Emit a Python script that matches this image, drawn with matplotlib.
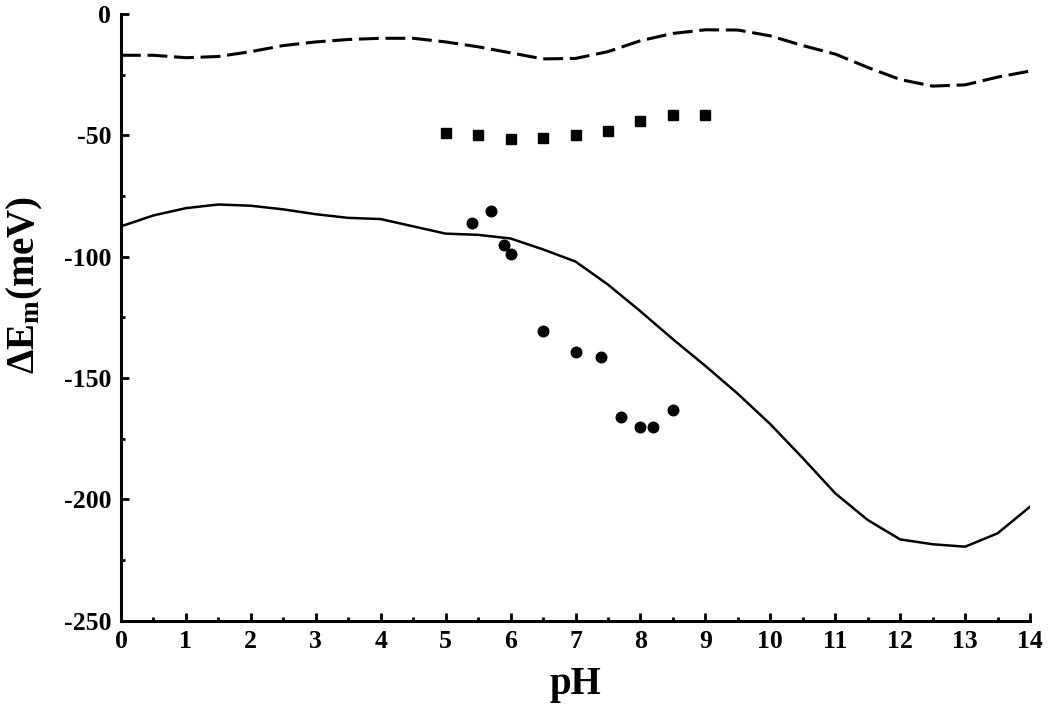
import numpy as np
import matplotlib
matplotlib.use('Agg')
import matplotlib.pyplot as plt
from matplotlib.ticker import MultipleLocator

plt.rcParams['font.family'] = 'Liberation Serif'
plt.rcParams['font.weight'] = 'bold'
plt.rcParams['axes.unicode_minus'] = False
plt.rcParams['mathtext.fontset'] = 'custom'
plt.rcParams['mathtext.rm'] = 'Liberation Serif:bold'
plt.rcParams['mathtext.it'] = 'Liberation Serif:bold'
plt.rcParams['mathtext.bf'] = 'Liberation Serif:bold'

# calculated curves (0.5 pH steps)
ph_curve = [0, 0.5, 1, 1.5, 2, 2.5, 3, 3.5, 4, 4.5, 5, 5.5, 6, 6.5, 7,
            7.5, 8, 8.5, 9, 9.5, 10, 10.5, 11, 11.5, 12, 12.5, 13, 13.5, 14]
dashed_vals = [-17, -17, -18, -17.5, -15.5, -13, -11.5, -10.5, -10, -10,
               -11.5, -13.5, -16, -18.5, -18.3, -15.5, -11, -8, -6.5, -6.6,
               -9, -13, -16.5, -22, -27, -29.7, -29.2, -26, -23.5]
solid_vals = [-87.5, -83, -80, -78.5, -79, -80.5, -82.5, -84, -84.5, -87.5,
              -90.5, -91, -92.5, -97, -102, -111.5, -122.5, -134, -145,
              -156.5, -169, -183, -197.5, -208.5, -216.5, -218.5, -219.5,
              -214, -203]

# experimental points
ph_squares = [5, 5.5, 6, 6.5, 7, 7.5, 8, 8.5, 9]
squares = [-49, -50, -51.5, -51, -49.8, -48, -44, -41.7, -41.7]

ph_circles = [5.4, 5.7, 5.9, 6.0, 6.5, 7.0, 7.4, 7.7, 8.0, 8.2, 8.5]
circles = [-86, -81, -95, -99, -130.5, -139.3, -141.2, -166.2, -170.2, -170.2, -163]

fig = plt.figure(figsize=(10.5, 7.08), dpi=100)
ax = fig.add_axes([0.1152, 0.1233, 0.8658, 0.8569])

ax.plot(ph_curve, dashed_vals, color='black', lw=2.2, dashes=(6.5, 2.2))
ax.plot(ph_curve, solid_vals, color='black', lw=1.8)
ax.plot(ph_squares, squares, 's', color='black', markersize=7.8, linestyle='none')
ax.plot(ph_circles, circles, 'o', color='black', markersize=7.6, linestyle='none')

ax.set_xlim(0, 14)
ax.set_ylim(-250, 0)
ax.xaxis.set_major_locator(MultipleLocator(1))
ax.xaxis.set_minor_locator(MultipleLocator(0.5))
ax.yaxis.set_major_locator(MultipleLocator(50))
ax.yaxis.set_minor_locator(MultipleLocator(25))

for side in ['top', 'right']:
    ax.spines[side].set_visible(False)
for side in ['left', 'bottom']:
    ax.spines[side].set_linewidth(2.2)

ax.tick_params(which='major', direction='in', length=6, width=2, labelsize=18.5, pad=7)
ax.tick_params(which='minor', direction='in', length=3, width=2)

ax.set_xlabel('pH', fontsize=28, fontweight='bold')
ax.set_ylabel(r'ΔE$_\mathrm{m}$(meV)', fontsize=28, fontweight='bold')
ax.xaxis.set_label_coords(0.4995, -0.074)
ax.yaxis.set_label_coords(-0.0836, 0.553)

fig.savefig('out.png', dpi=100)
